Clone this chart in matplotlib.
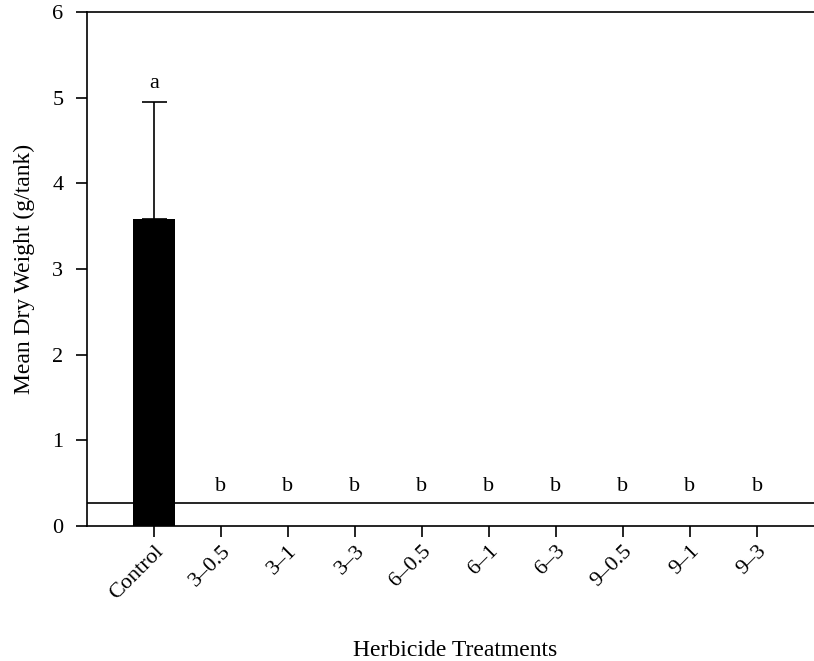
import matplotlib
matplotlib.use("Agg")
import matplotlib.pyplot as plt
import numpy as np

treatments = ["Control", "3–0.5", "3–1", "3–3", "6–0.5", "6–1", "6–3",
              "9–0.5", "9–1", "9–3"]
mean_dry_weight = [3.58, 0, 0, 0, 0, 0, 0, 0, 0, 0]
error_upper = [1.37, 0, 0, 0, 0, 0, 0, 0, 0, 0]
letters = ["a", "b", "b", "b", "b", "b", "b", "b", "b", "b"]
letter_y = [5.17, 0.46, 0.46, 0.46, 0.46, 0.46, 0.46, 0.46, 0.46, 0.46]
reference_level = 0.27

plt.rcParams["font.family"] = ["Liberation Serif", "DejaVu Serif"]

fig = plt.figure(figsize=(8.14, 6.61), dpi=100)
ax = fig.add_axes([0.1069, 0.2042, 0.8931, 0.7776])

x = np.arange(len(treatments))
ax.axhline(reference_level, color="black", lw=1.2, zorder=1)
ax.bar(x[:1], mean_dry_weight[:1], width=0.63, color="black", zorder=2)
ax.errorbar(x[:1], mean_dry_weight[:1],
            yerr=[[0], error_upper[:1]], fmt="none", ecolor="black",
            elinewidth=1.2, capsize=9, capthick=1.2, zorder=3)
for xi, lab, ly in zip(x, letters, letter_y):
    ax.text(xi, ly, lab, ha="center", va="center", fontsize=16)

ax.set_xlim(-1, 9.85)
ax.set_ylim(0, 6)
ax.set_yticks(range(7))
ax.set_xticks(x)
ax.set_xticklabels(treatments, rotation=45, ha="right", rotation_mode="anchor")
ax.tick_params(direction="out", length=8, width=1.2, labelsize=16)
ax.tick_params(axis="y", pad=9)
ax.spines["right"].set_visible(False)
for s in ("left", "top", "bottom"):
    ax.spines[s].set_linewidth(1.2)

ax.set_ylabel("Mean Dry Weight (g/tank)", fontsize=17)
ax.yaxis.set_label_coords(-0.0715, 0.5)
ax.set_xlabel("Herbicide Treatments", fontsize=17)
ax.xaxis.set_label_coords(0.507, -0.222)

fig.savefig("out.png", dpi=100)
